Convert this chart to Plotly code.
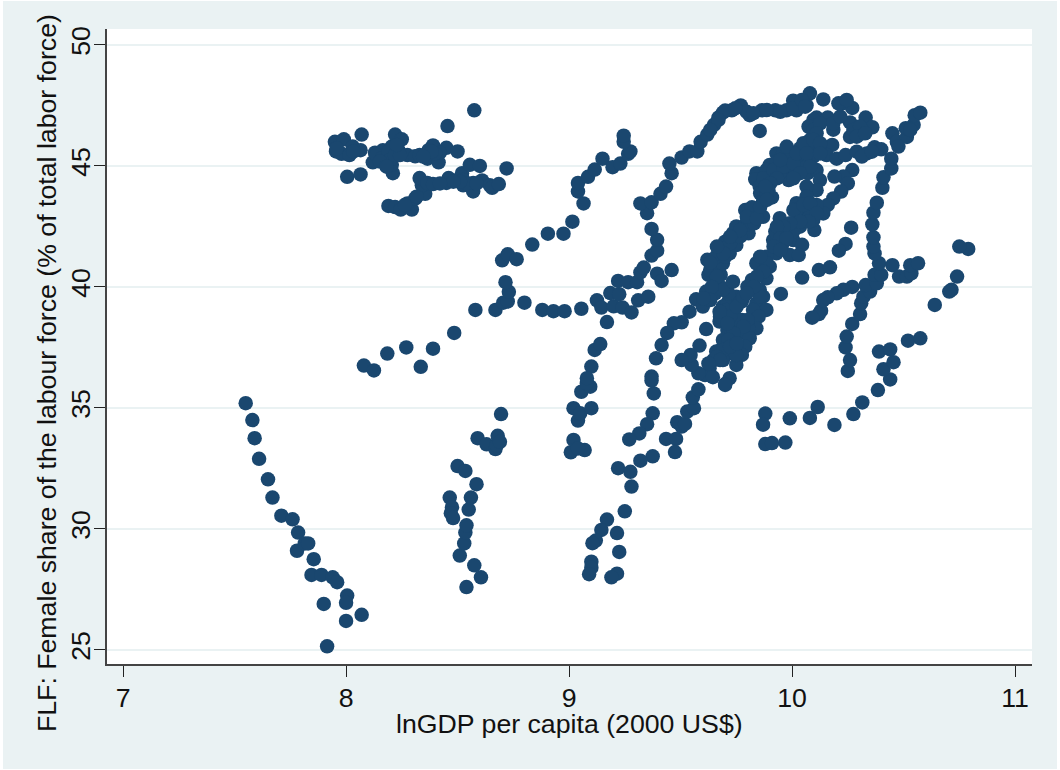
# -*- coding: utf-8 -*-
# FLF against lnGDP per capita, grouped by region of the scatter

import plotly.graph_objects as go

# descending chain, bottom left
x_low_left = [7.55,7.58,7.59,7.61,7.65,7.67,7.71,7.76,7.785,7.78,7.815,7.83,7.855,7.845,7.89,7.94,7.96,8.005,8.0,7.9,8.0,8.07,7.915]
y_low_left = [35.2,34.5,33.75,32.9,32.05,31.3,30.55,30.4,29.85,29.1,29.4,29.4,28.75,28.1,28.1,28.0,27.8,27.25,26.95,26.9,26.2,26.45,25.15]

# around x = 8.5, y 27 to 35
x_mid_low = [8.54,8.605,8.575,8.51,8.53,8.535,8.54,8.55,8.56,8.585,8.465,8.475,8.47,8.48,8.50,8.535,8.59,8.63,8.67,8.675,8.68,8.69,8.695]
y_mid_low = [27.6,28.0,28.5,28.9,29.4,29.85,30.15,30.8,31.3,31.85,31.3,30.9,30.65,30.45,32.6,32.4,33.75,33.5,33.3,33.45,33.85,33.6,34.75]

# top left cluster
x_top_left = [7.95,7.99,8.07,7.955,7.98,8.015,8.03,8.065,8.005,8.065,8.12,8.13,8.165,8.185,8.205,8.22,8.25,8.235,8.21,8.205,8.175,
              8.275,8.31,8.33,8.365,8.39,8.37,8.415,8.45,8.42,8.50,8.455,8.575,8.72,
              8.19,8.22,8.245,8.295,8.275,8.31,8.355,8.34,8.33,8.365,8.39,8.45,8.46,8.49,8.52,8.555,8.60,8.525,8.57,8.57,8.61,8.645,8.655,8.685,
              8.137,8.16,8.19,8.197,8.219,8.152,8.182,8.242,8.227,8.399,8.384,8.346,8.526,8.541,8.511,8.585,8.481,8.421,8.316,8.264,7.958,8.032]
y_top_left = [46.0,46.1,46.3,45.6,45.5,45.45,45.8,45.65,44.55,44.65,45.15,45.55,45.65,45.4,45.8,46.3,46.1,45.65,44.7,45.05,45.15,
              45.45,45.4,45.45,45.3,45.85,45.65,45.15,45.75,45.55,45.6,46.65,47.3,44.9,
              43.35,43.3,43.2,43.2,43.45,43.65,43.85,44.2,44.5,44.3,44.25,44.3,44.5,44.4,44.7,45.05,45.0,44.2,43.95,44.3,44.4,44.2,44.1,44.25,
              45.45,45.32,45.59,45.25,45.45,45.18,44.97,45.45,45.87,45.52,45.59,45.39,44.42,44.28,44.35,44.28,44.35,44.28,43.73,43.39,45.73,45.59]

# sparse line from 8.1 to 9.05 and its branch up to 46
x_sparse = [8.08,8.125,8.185,8.27,8.335,8.39,8.485,8.58,8.67,8.705,8.725,8.73,8.715,8.80,8.88,8.93,8.98,9.055,
            8.70,8.725,8.765,8.835,8.905,8.975,9.015,9.065,9.04,9.04,9.085,9.115,9.15,9.195,9.23,9.265,9.275,9.245,9.245]
y_sparse = [36.75,36.55,37.25,37.5,36.7,37.45,38.1,39.05,39.05,39.35,39.4,39.8,40.2,39.35,39.05,39.0,39.0,39.1,
            41.1,41.35,41.15,41.75,42.2,42.2,42.7,43.45,43.95,44.3,44.55,44.85,45.3,44.95,45.1,45.5,45.6,46.0,46.25]

# 9.1 to 9.5 around y = 40, then the long top ridge
x_ridge = [9.125,9.145,9.17,9.20,9.24,9.28,9.185,9.225,9.22,9.265,9.305,9.32,9.335,9.31,9.355,9.395,9.415,9.46,9.37,9.395,9.395,9.37,9.35,9.32,9.37,9.41,9.435,9.46,9.45,
           9.505,9.54,9.575,9.59,9.62,9.65,9.67,9.69,9.73,9.77,9.81,9.855,9.865,9.925,9.975,10.005,10.02,10.08,10.14,10.065,10.11,10.16,10.23,10.27,10.33,10.26,10.36,10.315,10.26,10.185,10.08,
           9.797,9.827,9.887,9.947,10.006,10.044,10.059,10.096,10.074,10.096,10.126,10.185,10.216,10.208,10.245,10.275,10.305,10.29,10.328,9.70,9.745,9.67,9.633]
y_ridge = [39.45,39.15,38.55,39.2,39.15,38.95,39.75,39.7,40.25,40.2,40.2,40.6,40.8,39.45,39.6,40.55,40.25,40.7,41.3,41.5,41.95,42.4,43.05,43.45,43.5,43.85,44.15,44.7,45.1,
           45.35,45.6,45.6,46.0,46.3,46.7,47.0,47.2,47.3,47.5,47.1,46.45,47.3,47.3,47.3,47.7,47.3,48.0,47.75,47.5,47.0,47.0,47.6,47.4,47.0,46.8,46.6,46.35,46.2,46.5,46.6,
           47.24,47.18,47.31,47.24,47.38,47.73,47.45,46.9,46.63,46.49,46.76,46.76,47.04,47.59,47.73,46.49,46.63,46.21,46.35,47.29,47.38,46.9,46.49]

# dense knot near 10, y = 45, running right to 10.6
x_knot = [9.93,9.96,9.90,9.84,9.835,9.885,9.93,9.99,10.036,10.08,10.11,10.096,10.05,9.99,9.985,10.03,10.065,10.096,10.14,10.18,10.155,10.2,10.24,10.29,10.335,10.37,10.40,10.45,10.47,10.515,10.51,10.545,10.55,10.575,
          9.945,9.855,9.915,9.87,10.07,10.11,
          9.872,9.917,9.961,10.006,9.947,9.976,10.021,10.051,10.066,10.096,10.126,10.126,10.081,10.036,10.006,9.932,9.902,9.894,9.857,10.313,10.358,10.477,10.53]
y_knot = [45.52,45.52,45.04,44.70,44.45,44.83,45.18,45.39,45.73,46.07,46.35,45.8,45.25,44.83,44.42,44.97,44.97,45.39,45.8,45.87,45.45,45.3,45.45,45.59,45.52,45.77,45.69,46.35,46.0,46.2,46.56,46.7,47.1,47.2,
          44.7,44.15,44.49,44.0,44.7,44.83,
          44.49,44.83,44.97,45.11,45.25,45.8,45.52,45.94,45.52,46.07,45.94,45.52,44.97,44.7,44.49,44.49,44.28,44.0,43.87,45.39,45.59,45.8,46.49]

# right hand band of the main diagonal
x_band_r = [10.27,10.23,10.19,10.25,10.22,10.185,10.16,10.14,10.125,10.11,10.065,10.065,10.02,10.095,10.065,10.10,10.095,10.035,10.005,9.945,10.035,9.975,9.925,9.915,10.005,10.045,9.99,10.03,9.93,9.885,9.84,9.90,9.885,9.82,9.80,9.855,9.87,9.84,9.885,9.825,9.85,
            9.75,9.72,9.775,9.74,9.69,9.675,9.707,9.735,9.775,9.84,9.805,9.765,9.81,9.79,9.775,9.75,9.72,9.70,9.70,9.68,9.72,9.69,9.647,9.63,9.61,9.645,9.58,9.55,9.545,9.505,9.585,9.615,
            9.71,9.69,9.66,9.735,9.75,9.76,9.80,9.71,9.715,9.955,9.93,10.005,10.08,10.11,10.02,
            10.006,10.051,10.081,10.111,10.074,10.036,9.991,9.961,9.932,9.947,9.976,9.917,9.947,9.887,9.857,9.872,9.842,
            9.677,9.707,9.722,9.752,9.782,9.782,9.737,9.715,9.692,9.722,9.752,9.663,9.677,9.625,9.842,9.857,9.827,9.797]
y_band_r = [44.83,44.56,44.56,44.28,43.94,43.66,43.39,43.04,44.42,44.0,44.15,43.73,43.46,43.39,43.04,42.35,42.77,43.04,42.63,42.84,42.49,42.29,42.29,41.94,41.94,41.74,41.32,41.32,41.39,41.25,40.98,40.84,40.36,40.29,40.01,39.88,39.6,39.32,39.05,39.05,38.77,
            39.6,39.53,39.4,39.05,39.19,38.57,38.77,38.36,38.64,38.29,38.29,38.08,37.88,37.53,37.19,36.78,36.23,35.99,37.67,37.4,37.26,36.98,36.98,36.64,36.36,36.27,36.43,36.78,37.19,36.98,37.58,38.26,
            38.22,37.81,37.33,37.67,37.19,38.64,38.64,39.33,39.74,41.73,42.22,42.29,42.97,43.39,43.18,
            43.18,43.39,43.46,43.04,42.7,42.7,42.63,42.49,42.49,42.01,42.01,41.67,41.53,40.98,41.25,40.63,40.43,
            38.77,39.05,38.77,39.19,39.6,38.36,38.08,37.81,37.4,37.53,37.67,37.12,36.98,36.84,39.88,39.6,40.0,39.74]

# left hand band of the main diagonal
x_band_l = [9.57,9.60,9.615,9.655,9.625,9.68,9.64,9.66,9.69,9.67,9.72,9.70,9.75,9.735,9.75,9.805,9.79,9.83,9.84,9.87,9.79,9.82,9.87,9.91,9.885,9.88,
            9.62,9.66,9.68,9.69,9.675,9.71,
            9.54,9.505,9.47,9.44,9.415,9.39,9.37,9.38,
            9.633,9.663,9.70,9.722,9.767,9.692,9.663,9.633,9.797,9.842,9.857,9.887,9.767,9.722,9.64,9.633,9.603]
y_band_l = [39.49,39.19,39.81,39.74,40.5,40.5,41.12,40.77,40.98,41.53,41.39,41.87,41.73,42.22,42.5,42.22,42.56,42.63,43.04,42.9,43.18,43.29,43.53,43.7,43.87,44.15,
            41.12,41.25,40.0,39.88,38.98,38.5,
            38.98,38.54,38.5,38.1,37.6,37.05,36.3,35.6,
            40.7,40.43,41.25,41.8,42.08,41.39,41.67,41.0,42.9,42.84,43.32,43.6,42.35,42.08,40.0,39.46,39.53]

# loose points right of the diagonal
x_loose = [9.735,9.95,10.045,10.12,10.17,10.265,10.24,10.21]
y_loose = [40.22,39.71,40.39,40.7,40.81,42.45,41.78,41.5]

# lower strands from 9 to 9.6
x_lower = [9.375,9.35,9.315,9.27,9.37,9.375,9.32,9.22,9.275,9.28,9.25,9.17,9.145,9.12,9.105,9.10,9.10,9.09,9.215,9.225,9.215,9.19,
           9.008,9.02,9.07,9.04,9.04,9.02,9.05,9.10,9.055,9.095,9.08,9.10,9.08,9.115,9.14,
           9.435,9.48,9.475,9.505,9.485,9.52,9.53,9.56,9.555,9.58,9.70]
y_lower = [34.78,34.33,33.95,33.7,36.13,33.0,32.82,32.51,32.36,31.75,30.73,30.39,29.96,29.52,29.41,28.65,28.4,28.13,29.83,29.05,28.15,28.0,
           33.17,33.68,33.26,33.33,34.48,34.99,34.78,34.99,35.67,35.88,36.02,36.71,36.23,37.4,37.64,
           33.72,33.72,33.18,34.23,34.41,34.34,34.85,34.99,35.44,35.77,35.95]

# right hand side, 9.9 to 10.8
x_right = [9.88,9.87,9.88,9.91,9.97,9.99,10.08,10.115,10.19,10.275,10.315,10.385,10.44,10.41,10.455,10.39,10.44,10.52,10.575,
           10.25,10.26,10.24,10.245,10.27,10.305,10.31,10.32,10.35,10.33,10.38,10.37,10.40,10.39,10.37,10.365,10.365,10.36,10.365,10.38,10.405,10.41,10.445,10.445,
           10.45,10.48,10.515,10.535,10.53,10.565,10.27,10.23,10.2,10.16,10.14,10.13,10.12,10.09,
           10.79,10.75,10.74,10.715,10.705,10.64]
y_right = [34.77,34.31,33.51,33.55,33.57,34.57,34.59,35.04,34.3,34.75,35.23,35.74,36.18,36.6,36.89,37.33,37.42,37.78,37.88,
           36.53,36.98,37.5,37.95,38.47,38.88,39.33,39.6,39.81,40.08,40.15,40.5,40.5,40.98,41.39,41.67,42.05,42.59,43.07,43.48,44.1,44.53,44.9,45.3,
           40.9,40.43,40.43,40.56,40.9,40.98,40.0,39.88,39.74,39.57,39.46,39.02,38.88,38.73,
           41.57,41.67,40.43,39.88,39.81,39.26]

ln_gdp = x_low_left + x_mid_low + x_top_left + x_sparse + x_ridge + x_knot + x_band_r + x_band_l + x_loose + x_lower + x_right
flf = y_low_left + y_mid_low + y_top_left + y_sparse + y_ridge + y_knot + y_band_r + y_band_l + y_loose + y_lower + y_right

x_ticks = [7, 8, 9, 10, 11]
y_ticks = [25, 30, 35, 40, 45, 50]

trace = go.Scatter(
    x=ln_gdp,
    y=flf,
    mode='markers',
    marker=dict(color='#1a476f', size=14.5, line=dict(width=0)),
    hoverinfo='skip'
)

font = dict(family='Liberation Sans, Arial, sans-serif', size=26.7, color='#111111')

layout = go.Layout(
    width=1054,
    height=768,
    showlegend=False,
    paper_bgcolor='#eaf2f3',
    plot_bgcolor='white',
    font=font,
    margin=dict(l=104, r=25, t=28, b=105),
    xaxis=dict(
        range=[6.928, 11.076],
        tickvals=x_ticks,
        tickfont=font,
        ticks='outside', ticklen=11, tickwidth=1.3, tickcolor='#222222',
        ticklabelstandoff=-2,
        showgrid=False, zeroline=False,
        showline=True, linecolor='#444444', linewidth=1.5
    ),
    yaxis=dict(
        range=[24.42, 50.66],
        tickvals=y_ticks,
        tickfont=font,
        tickangle=-90,
        ticks='outside', ticklen=11, tickwidth=1.3, tickcolor='#222222',
        ticklabelstandoff=-6,
        showgrid=True, gridcolor='#eaf2f3', gridwidth=2.2, zeroline=False,
        showline=True, linecolor='#444444', linewidth=1.5
    ),
    # titles sit tighter than the axis title layout allows, so they go in as annotations
    annotations=[
        dict(
            text='FLF: Female share of the labour force (% of total labor force)',
            textangle=-90, font=font, showarrow=False,
            xref='paper', yref='paper', x=-0.065, y=0.458,
            xanchor='center', yanchor='middle'
        ),
        dict(
            text='lnGDP per capita (2000 US$)',
            font=font, showarrow=False,
            xref='paper', yref='paper', x=0.5, y=-0.0945,
            xanchor='center', yanchor='middle'
        )
    ]
)

fig = go.Figure(data=[trace], layout=layout)
fig.write_html("out.html", post_script="document.body.style.margin='1px 3px';document.body.style.background='white';")
